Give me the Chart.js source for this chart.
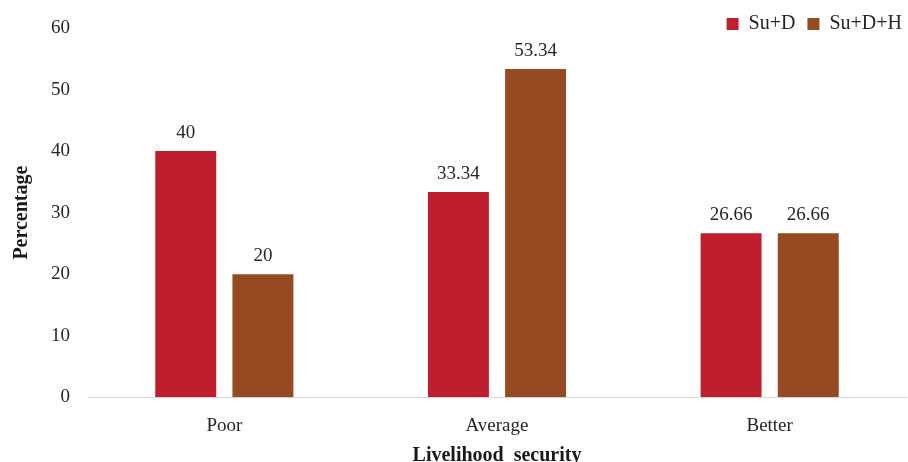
<!DOCTYPE html>
<html>
<head>
<meta charset="utf-8">
<script src="https://cdn.jsdelivr.net/npm/chart.js@4/dist/chart.umd.min.js"></script>
<style>
  html, body { margin: 0; padding: 0; background: #fff; }
  #wrap { width: 908px; height: 462px; }
</style>
</head>
<body>
<div id="wrap"><canvas id="myChart"></canvas></div>
<script>
// chart data
const categories = ['Poor', 'Average', 'Better'];
const seriesNames = ['Su+D', 'Su+D+H'];
const suD = [40, 33.34, 26.66];
const suDH = [20, 53.34, 26.66];
const yTicks = [0, 10, 20, 30, 40, 50, 60];

const textColor = '#262626';
const serif = "'Liberation Serif', 'Times New Roman', serif";

// value labels above each bar
const barLabels = {
    id: 'barLabels',
    afterDatasetsDraw(chart) {
        const ctx = chart.ctx;
        ctx.save();
        ctx.font = `19px ${serif}`;
        ctx.fillStyle = textColor;
        ctx.textAlign = 'center';
        ctx.textBaseline = 'alphabetic';
        chart.data.datasets.forEach((ds, i) => {
            chart.getDatasetMeta(i).data.forEach((bar, j) => {
                ctx.fillText(String(ds.data[j]), bar.x, bar.y - 13);
            });
        });
        ctx.restore();
    }
};

// let the legend sit over the top of the plot instead of pushing it down
const legendOverlap = {
    id: 'legendOverlap',
    beforeLayout(chart) {
        const lg = chart.legend;
        if (lg && !lg._patched) {
            const fit = lg.fit;
            lg.fit = function () {
                fit.call(this);
                this._fullHeight = this.height;
                this.height = 26;
            };
            lg._patched = true;
        }
    },
    afterLayout(chart) {
        const lg = chart.legend;
        if (lg && lg._fullHeight) {
            // give the clip box its real size again, nudge to the right edge
            lg.height = lg._fullHeight;
            lg.bottom = lg.top + lg._fullHeight;
            lg.left += 8;
            lg.right += 8;
        }
    }
};

const data = {
    labels: categories,
    datasets: [
        {
            label: seriesNames[0],
            data: suD,
            backgroundColor: '#BE1E2D',
            categoryPercentage: 0.566,
            barPercentage: 0.79
        },
        {
            label: seriesNames[1],
            data: suDH,
            backgroundColor: '#954A22',
            categoryPercentage: 0.566,
            barPercentage: 0.79
        }
    ]
};

const config = {
    type: 'bar',
    data,
    plugins: [barLabels, legendOverlap],
    options: {
        responsive: true,
        maintainAspectRatio: false,
        animation: false,
        layout: {
            padding: { top: 2, right: 2, left: 0, bottom: -6 }
        },
        plugins: {
            legend: {
                position: 'top',
                align: 'end',
                labels: {
                    boxWidth: 12,
                    boxHeight: 12,
                    padding: 12,
                    color: textColor,
                    font: { family: serif, size: 20 }
                }
            },
            tooltip: { enabled: false }
        },
        scales: {
            x: {
                grid: { display: false },
                border: { display: true, color: '#d9d9d9', width: 1 },
                ticks: {
                    color: textColor,
                    padding: 9,
                    font: { family: serif, size: 19 }
                },
                title: {
                    display: true,
                    text: 'Livelihood  security',
                    color: '#1a1a1a',
                    padding: { top: -2, bottom: 0 },
                    font: { family: serif, size: 20, weight: 'bold' }
                }
            },
            y: {
                min: 0,
                max: 60,
                afterBuildTicks(scale) {
                    scale.ticks = yTicks.map(v => ({ value: v }));
                },
                afterFit(scale) {
                    scale.width = 88;
                },
                grid: { display: false },
                border: { display: false },
                ticks: {
                    color: textColor,
                    padding: 10,
                    font: { family: serif, size: 19 }
                },
                title: {
                    display: true,
                    text: 'Percentage',
                    color: '#1a1a1a',
                    padding: { top: 10, bottom: 0 },
                    font: { family: serif, size: 20, weight: 'bold' }
                }
            }
        }
    }
};

const myChart = new Chart(document.getElementById('myChart'), config);
</script>
</body>
</html>
